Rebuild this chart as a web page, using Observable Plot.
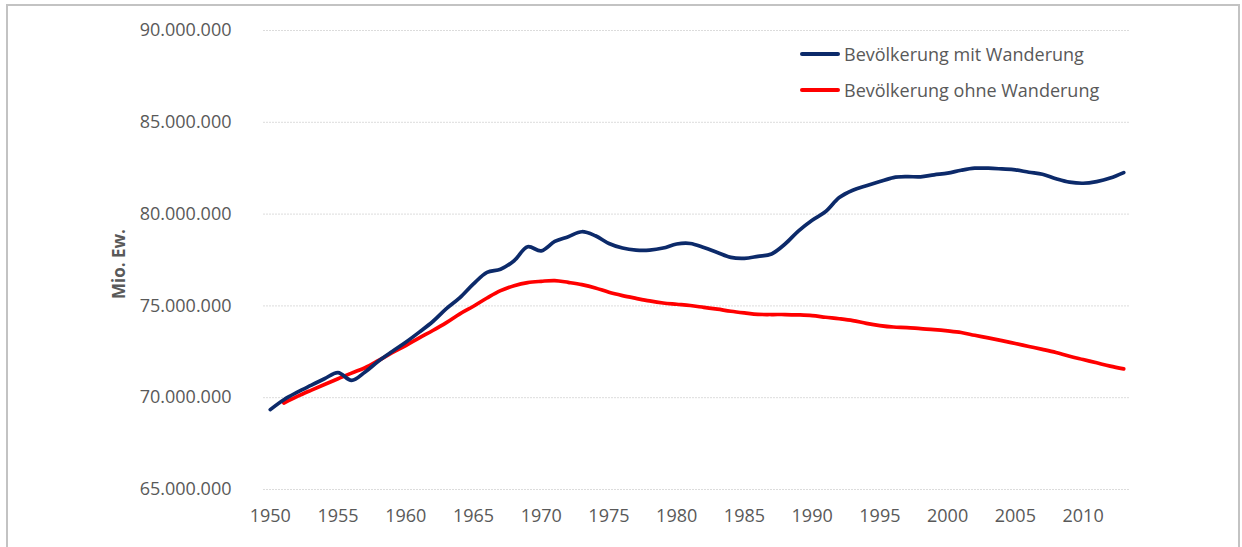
<!DOCTYPE html>
<html>
<head>
<meta charset="utf-8">
<script src="https://cdn.jsdelivr.net/npm/d3@7"></script>
<script src="https://cdn.jsdelivr.net/npm/@observablehq/plot@0.6"></script>
<style>
  html, body { margin: 0; padding: 0; background: #fff; }
  body { width: 1242px; height: 547px; position: relative; overflow: hidden; font-family: "Open Sans", sans-serif; }
  #frame { position: absolute; left: 6px; top: 4px; width: 1230px; height: 700px; border: 2px solid #c3c3c3; border-bottom: none; }
  #chart { position: absolute; left: 0; top: 0; }
  #ytitle { position: absolute; left: 118px; top: 264px; transform: translate(-50%, -50%) rotate(-90deg); font-weight: bold; font-size: 17px; color: #595959; white-space: nowrap; }
  .leg { position: absolute; left: 800px; height: 20px; display: flex; align-items: center; font-size: 18px; color: #595959; white-space: nowrap; }
  .leg span.sw { display: inline-block; width: 40px; height: 4px; margin-right: 4px; border-radius: 2px; }
</style>
</head>
<body>
<div id="frame"></div>
<div id="chart"></div>
<div id="ytitle">Mio. Ew.</div>
<div class="leg" style="top:44px"><span class="sw" style="background:#0c2a6a"></span>Bevölkerung mit Wanderung</div>
<div class="leg" style="top:80px"><span class="sw" style="background:#ff0000"></span>Bevölkerung ohne Wanderung</div>
<script>
// Years (categories)
const years = [1950,1951,1952,1953,1954,1955,1956,1957,1958,1959,
  1960,1961,1962,1963,1964,1965,1966,1967,1968,1969,
  1970,1971,1972,1973,1974,1975,1976,1977,1978,1979,
  1980,1981,1982,1983,1984,1985,1986,1987,1988,1989,
  1990,1991,1992,1993,1994,1995,1996,1997,1998,1999,
  2000,2001,2002,2003,2004,2005,2006,2007,2008,2009,
  2010,2011,2012,2013];

// Bevölkerung mit Wanderung (Mio.), 1950–2013
const mitWanderung = [69.35,69.89,70.30,70.67,71.03,71.37,70.94,71.40,72.00,72.52,
  73.02,73.57,74.15,74.85,75.45,76.20,76.83,77.00,77.46,78.22,
  78.00,78.51,78.77,79.04,78.82,78.40,78.15,78.04,78.04,78.15,
  78.37,78.40,78.18,77.91,77.64,77.59,77.70,77.83,78.37,79.09,
  79.67,80.14,80.90,81.30,81.54,81.77,81.99,82.04,82.03,82.14,
  82.23,82.39,82.50,82.50,82.46,82.41,82.28,82.17,81.93,81.74,
  81.68,81.77,81.96,82.26];

// Bevölkerung ohne Wanderung (Mio.), 1951–2013 (no value for 1950)
const ohneWanderung = [null,69.71,70.07,70.40,70.72,71.03,71.34,71.63,72.03,72.45,
  72.84,73.26,73.66,74.09,74.57,74.98,75.43,75.83,76.10,76.27,
  76.34,76.38,76.28,76.16,75.98,75.74,75.56,75.41,75.27,75.16,
  75.09,75.02,74.92,74.82,74.71,74.62,74.54,74.53,74.53,74.51,
  74.47,74.38,74.30,74.20,74.05,73.93,73.85,73.82,73.76,73.71,
  73.64,73.55,73.40,73.26,73.11,72.95,72.79,72.63,72.46,72.26,
  72.08,71.90,71.72,71.57];

const yTicks = [65000000,70000000,75000000,80000000,85000000,90000000];
const xTicks = [1950,1955,1960,1965,1970,1975,1980,1985,1990,1995,2000,2005,2010];

const de = d3.formatLocale({decimal: ",", thousands: ".", grouping: [3], currency: ["", " €"]});
const fmt = de.format(",");

const mit = years.map((y, i) => ({year: y, v: mitWanderung[i] * 1e6}));
const ohne = years.map((y, i) => ({year: y, v: ohneWanderung[i] == null ? null : ohneWanderung[i] * 1e6})).filter(d => d.v != null);

const chart = Plot.plot({
  width: 1242,
  height: 547,
  marginLeft: 263,
  marginRight: 112,
  marginTop: 30,
  marginBottom: 58,
  style: {background: "transparent", fontFamily: "'Open Sans', sans-serif", fontSize: "18px", color: "#595959"},
  x: {domain: [1949.5, 2013.5], type: "linear"},
  y: {domain: [65000000, 90000000]},
  marks: [
    Plot.gridY(yTicks, {stroke: "#dcdcdc", strokeOpacity: 1, strokeWidth: 1, strokeDasharray: "2,1"}),
    Plot.axisY(yTicks, {tickSize: 0, tickPadding: 32, tickFormat: fmt, label: null, fill: "#595959", fontSize: 18}),
    Plot.axisX(xTicks, {tickSize: 0, tickPadding: 20, tickFormat: d => String(d), label: null, fill: "#595959", fontSize: 18}),
    Plot.line(ohne, {x: "year", y: "v", stroke: "#ff0000", strokeWidth: 3.7, curve: "catmull-rom"}),
    Plot.line(mit, {x: "year", y: "v", stroke: "#0c2a6a", strokeWidth: 3.7, curve: "catmull-rom"})
  ]
});
document.getElementById("chart").appendChild(chart);
</script>
</body>
</html>
